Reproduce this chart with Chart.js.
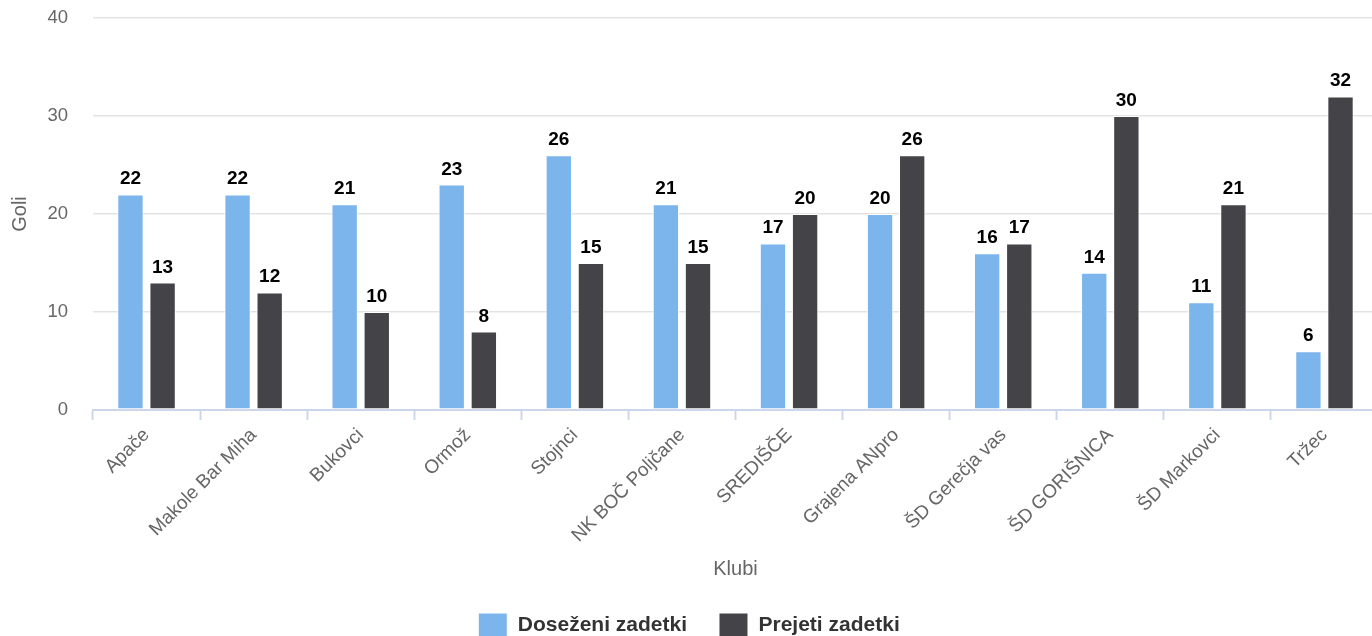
<!DOCTYPE html>
<html lang="sl">

<head>
    <meta charset="UTF-8">
    <title>Goli po klubih</title>
    <script src="https://cdn.jsdelivr.net/npm/chart.js"></script>
    <style>
        html, body { margin: 0; padding: 0; background: #fff; overflow: hidden; }
        .okvir { width: 1380px; height: 647px; position: relative; }
    </style>
</head>

<body>
    <div class="okvir">
        <canvas id="graficoGoli"></canvas>
    </div>

<script>
    // podatki
    const klubi = ['Apače', 'Makole Bar Miha', 'Bukovci', 'Ormož', 'Stojnci', 'NK BOČ Poljčane',
        'SREDIŠČE', 'Grajena ANpro', 'ŠD Gerečja vas', 'ŠD GORIŠNICA', 'ŠD Markovci', 'Tržec']
    const dosezeni = [22, 22, 21, 23, 26, 21, 17, 20, 16, 14, 11, 6]
    const prejeti = [13, 12, 10, 8, 15, 15, 20, 26, 17, 30, 21, 32]
    const yTicks = [0, 10, 20, 30, 40]

    const pisava = '"Liberation Sans", Arial, Helvetica, sans-serif'

    // oznake nad stolpci
    const oznakeStolpcev = {
        id: 'oznakeStolpcev',
        afterDatasetsDraw(chart) {
            const ctx = chart.ctx
            ctx.save()
            ctx.font = 'bold 19px ' + pisava
            ctx.textAlign = 'center'
            ctx.textBaseline = 'alphabetic'
            ctx.lineJoin = 'round'
            chart.data.datasets.forEach(function (ds, i) {
                chart.getDatasetMeta(i).data.forEach(function (bar, j) {
                    const txt = String(ds.data[j])
                    ctx.strokeStyle = '#fff'
                    ctx.lineWidth = 2
                    ctx.strokeText(txt, bar.x, bar.y - 10)
                    ctx.fillStyle = '#000'
                    ctx.fillText(txt, bar.x, bar.y - 10)
                })
            })
            ctx.restore()
        }
    }

    const graficoGoli = document.getElementById('graficoGoli')

    new Chart(graficoGoli, {
        type: 'bar',
        data: {
            labels: klubi,
            datasets: [
                {
                    label: 'Doseženi zadetki',
                    data: dosezeni,
                    backgroundColor: '#7cb5ec',
                    borderColor: '#ffffff',
                    borderWidth: 1,
                    borderSkipped: false,
                    categoryPercentage: 0.6,
                    barPercentage: 0.82
                },
                {
                    label: 'Prejeti zadetki',
                    data: prejeti,
                    backgroundColor: '#434348',
                    borderColor: '#ffffff',
                    borderWidth: 1,
                    borderSkipped: false,
                    categoryPercentage: 0.6,
                    barPercentage: 0.82
                }
            ]
        },
        options: {
            responsive: true,
            maintainAspectRatio: false,
            animation: false,
            layout: { padding: { left: 0, right: 2, top: 18, bottom: 0 } },
            scales: {
                x: {
                    offset: true,
                    grid: {
                        offset: true,
                        display: true,
                        drawOnChartArea: false,
                        drawTicks: true,
                        tickLength: 10,
                        tickWidth: 2,
                        tickColor: '#ccd6eb',
                        color: '#ccd6eb'
                    },
                    border: { display: true, color: '#ccd6eb', width: 2 },
                    ticks: {
                        autoSkip: false,
                        maxRotation: 45,
                        minRotation: 45,
                        padding: 4,
                        color: '#666666',
                        font: { size: 19, family: pisava }
                    },
                    title: {
                        display: true,
                        text: 'Klubi',
                        color: '#666666',
                        font: { size: 20, family: pisava },
                        padding: { top: 4, bottom: 0 }
                    },
                    afterFit: function (scale) { scale.height = 171 }
                },
                y: {
                    min: 0,
                    max: 40,
                    afterBuildTicks: function (scale) {
                        scale.ticks = yTicks.map(function (v) { return { value: v } })
                    },
                    grid: {
                        color: '#e3e3e3',
                        lineWidth: 1.5,
                        drawTicks: true,
                        tickLength: 25,
                        tickColor: 'rgba(0,0,0,0)'
                    },
                    border: { display: false },
                    ticks: {
                        padding: 0,
                        color: '#666666',
                        font: { size: 18.5, family: pisava }
                    },
                    title: {
                        display: true,
                        text: 'Goli',
                        color: '#666666',
                        font: { size: 20, family: pisava },
                        padding: { top: 8, bottom: 0 }
                    },
                    afterFit: function (scale) { scale.width = 93 }
                }
            },
            plugins: {
                legend: {
                    position: 'bottom',
                    labels: {
                        boxWidth: 29,
                        boxHeight: 24,
                        padding: 32,
                        color: '#333333',
                        font: { size: 21, weight: 'bold', family: pisava }
                    }
                },
                tooltip: { enabled: false }
            }
        },
        plugins: [oznakeStolpcev]
    });
</script>
</body>

</html>
